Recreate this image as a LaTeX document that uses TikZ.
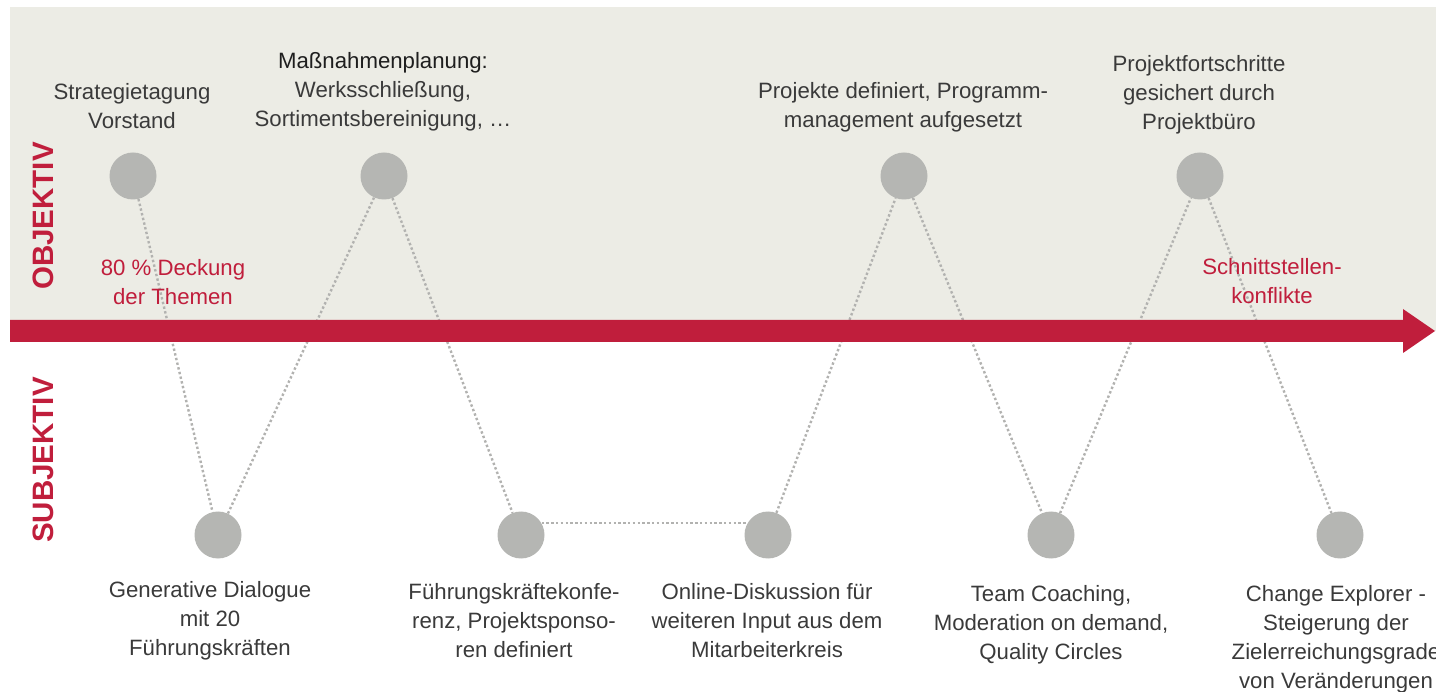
\documentclass[tikz,border=0pt]{standalone}
\usepackage{fontspec}
\setmainfont{Liberation Sans}
\definecolor{crim}{HTML}{C01E3C}
\definecolor{bgc}{HTML}{ECECE5}
\definecolor{dotc}{HTML}{B2B2B0}
\definecolor{circc}{HTML}{B5B6B3}
\definecolor{txt}{HTML}{3A3A3A}
\definecolor{txtdark}{HTML}{1E1E1E}
\begin{document}
\begin{tikzpicture}[x=1pt,y=-1pt,
  dotnode/.style={circle,fill=circc,minimum size=47pt,inner sep=0pt},
  conn/.style={draw=dotc,line width=2.4pt,dash pattern=on 2.4pt off 2.4pt},
  lbl/.style={align=center,font=\fontsize{22.2}{29}\selectfont,text=txt,inner sep=0pt},
  redlbl/.style={lbl,text=crim},
  axislbl/.style={font=\fontsize{29.5}{29.5}\selectfont\bfseries,text=crim,inner sep=0pt,rotate=90}
]
\useasboundingbox (0,0) rectangle (1436,692);
% background panel
\fill[bgc] (10,7) rectangle (1436,331);

% milestones
\node[dotnode] (t1) at (133,176) {};
\node[dotnode] (t2) at (384,176) {};
\node[dotnode] (t3) at (904,176) {};
\node[dotnode] (t4) at (1200,176) {};
\node[dotnode] (b1) at (218,535) {};
\node[dotnode] (b2) at (521,535) {};
\node[dotnode] (b3) at (768,535) {};
\node[dotnode] (b4) at (1051,535) {};
\node[dotnode] (b5) at (1340,535) {};

% dotted connectors
\draw[conn] (t1) -- (b1);
\draw[conn] (b1) -- (t2);
\draw[conn] (t2) -- (b2);
\draw[conn] (b2.30) -- (b3.150);
\draw[conn] (b3) -- (t3);
\draw[conn] (t3) -- (b4);
\draw[conn] (b4) -- (t4);
\draw[conn] (t4) -- (b5);

% time arrow
\fill[crim] (10,320) -- (1403,320) -- (1403,309) -- (1435,331) -- (1403,353) -- (1403,342) -- (10,342) -- cycle;

% axis labels
\node[axislbl] (obj) at (43,216) {OBJEKTIV};
\node[axislbl] (subj) at (43,460) {SUBJEKTIV};

% top labels
\node[lbl] (l1) at (132,106) {Strategietagung\\Vorstand};
\node[lbl] (l2) at (383,92) {\textcolor{txtdark}{Maßnahmenplanung:}\\Werksschließung,\\Sortimentsbereinigung, …};
\node[lbl] (l3) at (903,107) {Projekte definiert, Programm-\\management aufgesetzt};
\node[lbl] (l4) at (1199,95) {Projektfortschritte\\gesichert durch\\Projektbüro};

% red annotations
\node[redlbl] (r1) at (173,282) {80 \% Deckung\\der Themen};
\node[redlbl] (r2) at (1272,281) {Schnittstellen-\\konflikte};

% bottom labels
\node[lbl] (l5) at (210,621) {Generative Dialogue\\mit 20\\Führungskräften};
\node[lbl] (l6) at (514,621) {Führungskräftekonfe-\\renz, Projektsponso-\\ren definiert};
\node[lbl] (l7) at (767,621) {Online-Diskussion für\\weiteren Input aus dem\\Mitarbeiterkreis};
\node[lbl] (l8) at (1051,625) {Team Coaching,\\Moderation on demand,\\Quality Circles};
\node[lbl] (l9) at (1336,639) {Change Explorer -\\Steigerung der\\Zielerreichungsgrade\\von Veränderungen};
\end{tikzpicture}
\end{document}
